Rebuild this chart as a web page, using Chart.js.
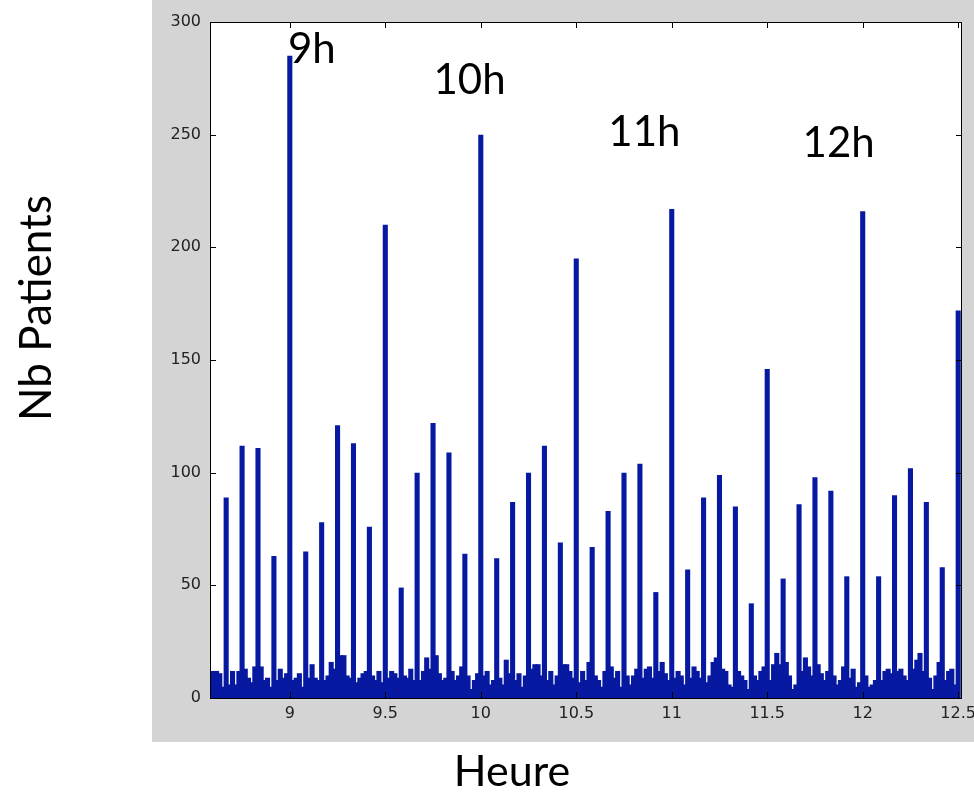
<!DOCTYPE html>
<html>
<head>
<meta charset="utf-8">
<script src="https://cdn.jsdelivr.net/npm/chart.js@4/dist/chart.umd.min.js"></script>
<style>
  html, body { margin: 0; padding: 0; background: #fff; }
  #wrap { width: 974px; height: 795px; }
</style>
</head>
<body>
<div id="wrap"><canvas id="myChart" width="974" height="795"></canvas></div>
<script>
// one bin per minute, first bin = 8h36
const firstMinute = 516;
const counts = [
  12, 12, 11, 5,
  89, 6, 12, 6, 12,
  112, 13, 9, 7, 14,
  111, 14, 8, 9, 5,
  63, 8, 13, 9, 11,
  285, 8, 9, 11, 5,
  65, 9, 15, 9, 8,
  78, 8, 10, 16, 13,
  121, 19, 19, 10, 9,
  113, 7, 9, 11, 12,
  76, 10, 8, 12, 7,
  210, 9, 12, 11, 9,
  49, 10, 9, 13, 8,
  100, 8, 12, 18, 13,
  122, 19, 11, 8, 9,
  109, 12, 8, 10, 14,
  64, 10, 4, 8, 11,
  250, 10, 12, 6, 8,
  62, 9, 6, 17, 11,
  87, 8, 11, 5, 10,
  100, 13, 15, 15, 10,
  112, 8, 12, 6, 10,
  69, 15, 15, 12, 9,
  195, 7, 12, 8, 16,
  67, 10, 8, 5, 12,
  83, 14, 9, 12, 5,
  100, 10, 6, 10, 13,
  104, 9, 13, 14, 9,
  47, 12, 16, 11, 8,
  217, 9, 12, 10, 6,
  57, 9, 14, 12, 9,
  89, 7, 10, 16, 18,
  99, 13, 12, 6, 5,
  85, 12, 10, 8, 4,
  42, 10, 8, 12, 14,
  146, 8, 15, 20, 15,
  53, 16, 10, 4, 6,
  86, 12, 18, 14, 10,
  98, 15, 11, 8, 12,
  92, 10, 6, 8, 14,
  54, 9, 13, 5, 7,
  216, 10, 5, 6, 8,
  54, 8, 12, 13, 11,
  90, 12, 13, 10, 8,
  102, 13, 17, 20, 12,
  87, 9, 4, 10, 16,
  58, 8, 12, 13, 6,
  172
];
const xTicks = [9, 9.5, 10, 10.5, 11, 11.5, 12, 12.5];
const yTicks = [0, 50, 100, 150, 200, 250, 300];
const hourLabels = ["9h", "10h", "11h", "12h"];
const hourLabelX = [8.99, 9.752, 10.668, 11.685];
const hourLabelY = [282, 268, 245, 240];

const points = counts.map((c, i) => ({ x: (firstMinute + i) / 60, y: c }));

const tickFont = { family: "'DejaVu Sans', sans-serif", size: 16 };
const bigFont = "Lato, 'Open Sans', sans-serif";

const frame = {
  id: "frame",
  beforeDraw(chart) {
    const ctx = chart.ctx;
    const a = chart.chartArea;
    ctx.save();
    ctx.fillStyle = "#ffffff";
    ctx.fillRect(0, 0, chart.width, chart.height);
    ctx.fillStyle = "#d4d4d4";
    ctx.fillRect(152, 0, chart.width - 152, 742);
    ctx.fillStyle = "#ffffff";
    ctx.fillRect(a.left, a.top, a.right - a.left, a.bottom - a.top);
    ctx.restore();
  },
  afterDatasetsDraw(chart) {
    const ctx = chart.ctx;
    const a = chart.chartArea;
    const xs = chart.scales.x;
    const ys = chart.scales.y;
    ctx.save();
    ctx.strokeStyle = "#000";
    ctx.lineWidth = 1;
    ctx.strokeRect(a.left + 0.5, a.top + 0.5, a.right - a.left - 1, a.bottom - a.top);
    ctx.beginPath();
    xTicks.forEach(v => {
      const px = Math.round(xs.getPixelForValue(v)) + 0.5;
      ctx.moveTo(px, a.bottom); ctx.lineTo(px, a.bottom - 6);
      ctx.moveTo(px, a.top); ctx.lineTo(px, a.top + 6);
    });
    yTicks.forEach(v => {
      const py = Math.round(ys.getPixelForValue(v)) + 0.5;
      ctx.moveTo(a.left, py); ctx.lineTo(a.left + 6, py);
      ctx.moveTo(a.right, py); ctx.lineTo(a.right - 6, py);
    });
    ctx.stroke();

    ctx.fillStyle = "#000";
    ctx.font = "42px " + bigFont;
    ctx.textAlign = "left";
    ctx.textBaseline = "alphabetic";
    hourLabels.forEach((t, i) => {
      ctx.fillText(t, xs.getPixelForValue(hourLabelX[i]), ys.getPixelForValue(hourLabelY[i]));
    });

    ctx.font = "43px " + bigFont;
    ctx.textAlign = "center";
    ctx.textBaseline = "middle";
    ctx.fillText("Heure", 512, 772);
    ctx.font = "44px " + bigFont;
    ctx.translate(37, 308);
    ctx.rotate(-Math.PI / 2);
    ctx.fillText("Nb Patients", 0, 0);
    ctx.restore();
  }
};

new Chart(document.getElementById("myChart"), {
  type: "bar",
  data: {
    datasets: [{
      label: "Nb Patients",
      data: points,
      backgroundColor: "#0619a0",
      borderWidth: 0,
      barPercentage: 1.6,
      categoryPercentage: 1,
      grouped: false
    }]
  },
  options: {
    responsive: false,
    animation: false,
    layout: { padding: { top: 22, right: 12, left: 0, bottom: 0 } },
    plugins: { legend: { display: false }, tooltip: { enabled: false } },
    scales: {
      x: {
        type: "linear",
        offset: false,
        min: 8.582,
        max: 12.52,
        grid: { display: false, drawTicks: false, offset: false },
        border: { display: false },
        afterBuildTicks: s => { s.ticks = xTicks.map(v => ({ value: v })); },
        afterFit: s => { s.height = 97; s.paddingLeft = 0; s.paddingRight = 0; },
        ticks: { font: tickFont, color: "#222", padding: 6, maxRotation: 0, autoSkip: false,
                 callback: v => String(v) }
      },
      y: {
        min: 0,
        max: 300,
        grid: { display: false, drawTicks: false },
        border: { display: false },
        afterBuildTicks: s => { s.ticks = yTicks.map(v => ({ value: v })); },
        afterFit: s => { s.width = 210; s.paddingTop = 0; s.paddingBottom = 0; },
        ticks: { font: tickFont, color: "#222", padding: 9, callback: v => String(v) }
      }
    }
  },
  plugins: [frame]
});
</script>
</body>
</html>
